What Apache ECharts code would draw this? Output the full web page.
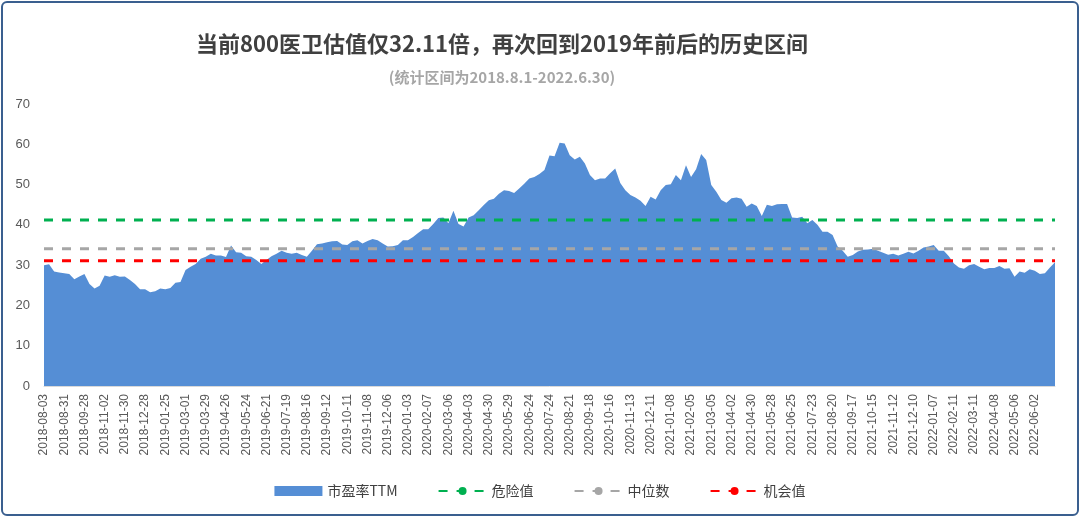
<!DOCTYPE html>
<html><head><meta charset="utf-8">
<script src="https://cdn.jsdelivr.net/npm/echarts@6/dist/echarts.min.js"></script>
<style>html,body{margin:0;padding:0;background:#fff}
#frame{position:absolute;left:1px;top:1px;width:1074px;height:511px;border:2px solid #3a5f8f;border-radius:6px}
#c{width:1080px;height:517px;position:absolute;left:0;top:0}</style></head>
<body><div id="frame"></div><div id="c"></div>
<script>
const tickLabels=['2018-08-03','2018-08-31','2018-09-28','2018-11-02','2018-11-30','2018-12-28','2019-01-25','2019-03-01','2019-03-29','2019-04-26','2019-05-24','2019-06-21','2019-07-19','2019-08-16','2019-09-12','2019-10-11','2019-11-08','2019-12-06','2020-01-03','2020-02-07','2020-03-06','2020-04-03','2020-04-30','2020-05-29','2020-06-24','2020-07-24','2020-08-21','2020-09-18','2020-10-16','2020-11-13','2020-12-11','2021-01-08','2021-02-05','2021-03-05','2021-04-02','2021-04-30','2021-05-28','2021-06-25','2021-07-23','2021-08-20','2021-09-17','2021-10-15','2021-11-12','2021-12-10','2022-01-07','2022-02-11','2022-03-11','2022-04-08','2022-05-06','2022-06-02'];
const peValues=[30.0,30.2,28.4,28.2,28,27.8,26.5,27.2,27.8,25.3,24.2,24.9,27.4,27.1,27.5,27.1,27.2,26.3,25.3,24,24,23.3,23.5,24.2,24,24.3,25.6,25.8,28.8,29.6,30.3,31.6,32.1,32.8,32.4,32.4,32,34.9,33.2,33.1,32.2,32.1,31.3,30.3,31.3,32.2,32.8,33.6,33.1,32.8,33.1,32.5,32.1,33.6,35.2,35.4,35.7,35.9,36,35.1,35,35.9,36.2,35.4,36,36.5,36.2,35.4,34.6,34.7,35,36.2,36.2,37,38,38.9,38.9,40.2,41.7,41.8,40.4,43.5,40.2,39.6,41.8,42.4,43.6,44.9,46.1,46.5,47.7,48.6,48.4,47.9,49,50.2,51.5,51.9,52.6,53.6,57.2,57,60.4,60.2,57.3,56.2,56.9,55.2,52.4,51.1,51.5,51.5,52.8,54,50.4,48.6,47.4,46.8,46,44.7,47,46.3,48.6,49.9,50.1,52.4,51.1,54.8,51.9,53.8,57.6,56.1,49.9,48.2,46.2,45.5,46.6,46.8,46.5,44.5,45.3,44.7,42.2,45,44.7,45.1,45.2,45.2,41.8,41.7,42,40.4,41.2,40,38.3,38.3,37.5,34.6,33.6,32.1,32.5,33.4,33.8,33.9,34.1,33.6,33.1,32.6,32.8,32.4,32.8,33.3,32.9,33.6,34.4,34.6,35,33.6,33.6,32.2,30.4,29.4,29.1,30,30.3,29.6,29,29.3,29.3,29.8,29.1,29.2,27.1,28.4,28.1,29,28.6,27.8,28,29.4,30.7];
const dangerValue=41.2, medianValue=34.1, chanceValue=31.1;
const categories=peValues.map((v,i)=>i%4===0&&tickLabels[i/4]?tickLabels[i/4]:' '+i);
const constLine=v=>peValues.map(()=>v);
const chart=echarts.init(document.getElementById('c'));
const lineSeries=(name,v,color)=>({name,type:'line',data:constLine(v),symbol:'none',lineStyle:{color,width:3,type:[9,9]},itemStyle:{color},z:3});
chart.setOption({
 animation:false,
 title:[{text:'当前800医卫估值仅32.11倍，再次回到2019年前后的历史区间',left:497,top:28,textAlign:'center',textStyle:{fontSize:22,fontWeight:'bold',color:'#404040',fontFamily:'Noto Sans CJK SC'}},
 {text:'(统计区间为2018.8.1-2022.6.30)',left:497,top:65,textAlign:'center',textStyle:{fontSize:15,fontWeight:'bold',color:'#a6a6a6',fontFamily:'Noto Sans CJK SC'}}],
 grid:{left:44,right:25,top:104,bottom:131},
 legend:{bottom:14,left:'center',itemGap:40,textStyle:{fontSize:14,color:'#404040',fontFamily:'Noto Sans CJK SC'},
  data:[{name:'市盈率TTM',icon:'rect'},{name:'危险值'},{name:'中位数'},{name:'机会值'}],itemWidth:48,itemHeight:10},
 xAxis:{type:'category',boundaryGap:false,data:categories,axisTick:{show:false},axisLine:{lineStyle:{color:'#d9d9d9'}},
  axisLabel:{interval:3,rotate:90,fontSize:12,color:'#595959',fontFamily:'Liberation Sans',formatter:v=>v.startsWith(' ')?'':v}},
 yAxis:{type:'value',min:0,max:70,interval:10,splitLine:{show:false},axisLine:{show:false},axisTick:{show:false},
  axisLabel:{fontSize:13,color:'#595959',fontFamily:'Liberation Sans',margin:14}},
 series:[
  {name:'市盈率TTM',type:'line',data:peValues,symbol:'none',lineStyle:{width:0},areaStyle:{color:'#558ed5',opacity:1},itemStyle:{color:'#558ed5'}},
  lineSeries('危险值',dangerValue,'#00b050'),
  lineSeries('中位数',medianValue,'#a6a6a6'),
  lineSeries('机会值',chanceValue,'#ff0000')
 ]});
</script></body></html>
